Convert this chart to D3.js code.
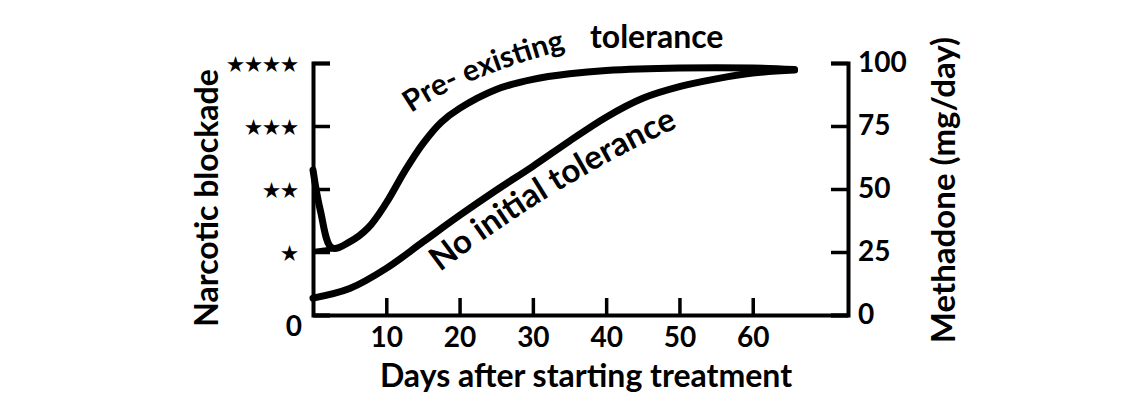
<!DOCTYPE html>
<html><head><meta charset="utf-8">
<script src="https://cdn.jsdelivr.net/npm/d3@7"></script>
<style>
html,body{margin:0;padding:0;background:#fff;}
svg{display:block;}
text{font-family:Lato,"Open Sans",sans-serif;font-weight:700;fill:#000;}
</style></head><body>
<svg id="c" width="1132" height="397"></svg>
<script>
// ---- data ----
const xTicks = [10, 20, 30, 40, 50, 60];
const rightTicks = [0, 25, 50, 75, 100];
const blockadeTicks = [0, 1, 2, 3, 4];
const blockadeLabels = ["0", "★", "★★", "★★★", "★★★★"];
// pre-existing tolerance curve (day, methadone-scale value)
const preDays = [0, 1, 2.6, 5, 7.5, 10, 12.5, 15, 17.5, 20, 25, 30, 35, 40, 50, 60, 65.7];
const preVals = [57.5, 41.5, 26.6, 29, 34.5, 44.5, 57, 68, 76.5, 82, 89.5, 93.5, 95.7, 97, 98, 98, 97.4];
const preBaseDays = [0, 2.6];
const preBaseVals = [25.2, 26.2];
// no initial tolerance curve
const noDays = [0, 5, 10, 15, 20, 25, 30, 35, 40, 45, 50, 55, 60, 65.7];
const noVals = [6.7, 10.5, 18.5, 29, 39.5, 49.5, 59, 69, 78.5, 86, 90.6, 93.7, 96, 97.2];
const xTitle = "Days after starting treatment";
const leftTitle = "Narcotic blockade";
const rightTitle = "Methadone (mg/day)";

// ---- drawing ----
const svg = d3.select("#c");
const x = d3.scaleLinear().domain([0, 73]).range([313, 848]);
const y = d3.scaleLinear().domain([0, 100]).range([315, 63]);
const yb = d3.scaleLinear().domain([0, 4]).range([315, 63]);

const line = d3.line().x(d => x(d[0])).y(d => y(d[1])).curve(d3.curveCatmullRom.alpha(0.5));
const pre = preDays.map((d, i) => [d, preVals[i]]);
const preBase = preBaseDays.map((d, i) => [d, preBaseVals[i]]);
const noT = noDays.map((d, i) => [d, noVals[i]]);

[pre, noT].forEach(s => {
  svg.append("path").attr("d", line(s)).attr("fill", "none").attr("stroke", "#000")
    .attr("stroke-width", 7).attr("stroke-linecap", "round").attr("stroke-linejoin", "round");
});
svg.append("path").attr("d", d3.line().x(d => x(d[0])).y(d => y(d[1]))(preBase))
  .attr("fill", "none").attr("stroke", "#000").attr("stroke-width", 5);

// axes
function styleAxis(g, fs) {
  g.select(".domain").attr("stroke", "#000").attr("stroke-width", 4).attr("fill", "none");
  g.selectAll(".tick line").attr("stroke", "#000").attr("stroke-width", 3.5);
  g.selectAll(".tick text").attr("font-family", "Lato").attr("font-weight", 700).attr("font-size", fs).attr("fill", "#000");
}
const gx = svg.append("g").attr("transform", "translate(0,315)")
  .call(d3.axisBottom(x).tickValues(xTicks).tickSizeInner(-17).tickSizeOuter(0).tickPadding(12));
styleAxis(gx, 28);

const gl = svg.append("g").attr("transform", "translate(313,0)")
  .call(d3.axisLeft(yb).tickValues(blockadeTicks).tickFormat((d, i) => blockadeLabels[i])
    .tickSizeInner(-17).tickSizeOuter(-17).tickPadding(15));
styleAxis(gl, 28);
gl.selectAll(".tick text")
  .attr("x", d => d === 0 ? -11 : -14)
  .attr("dy", d => d === 0 ? "0.72em" : "0.38em")
  .attr("font-family", d => d === 0 ? "Lato" : "DejaVu Sans")
  .attr("letter-spacing", d => d === 0 ? 0 : 1)
  .attr("font-size", d => d === 0 ? 28 : 19);

const gr = svg.append("g").attr("transform", "translate(848,0)")
  .call(d3.axisRight(y).tickValues(rightTicks).tickSizeInner(-17).tickSizeOuter(-17).tickPadding(10));
styleAxis(gr, 28);

// titles
svg.append("text").attr("x", 586).attr("y", 387).attr("text-anchor", "middle")
  .attr("font-size", 32).text(xTitle);
svg.append("text").attr("transform", "translate(218,198) rotate(-90)").attr("text-anchor", "middle")
  .attr("font-size", 32).text(leftTitle);
svg.append("text").attr("transform", "translate(955,190) rotate(-90)").attr("text-anchor", "middle")
  .attr("font-size", 33).text(rightTitle);

// curve labels
const defs = svg.append("defs");
defs.append("path").attr("id", "prePath").attr("d", "M411,113 C431,100 464,77 578,46");
defs.append("path").attr("id", "noPath").attr("d", "M440,272 C490,234 580,170 690,122");
svg.append("text").attr("font-size", 30).append("textPath").attr("href", "#prePath").text("Pre- existing");
svg.append("text").attr("x", 590).attr("y", 48).attr("font-size", 32).text("tolerance");
svg.append("text").attr("font-size", 33).append("textPath").attr("href", "#noPath").text("No initial tolerance");
</script>
</body></html>
